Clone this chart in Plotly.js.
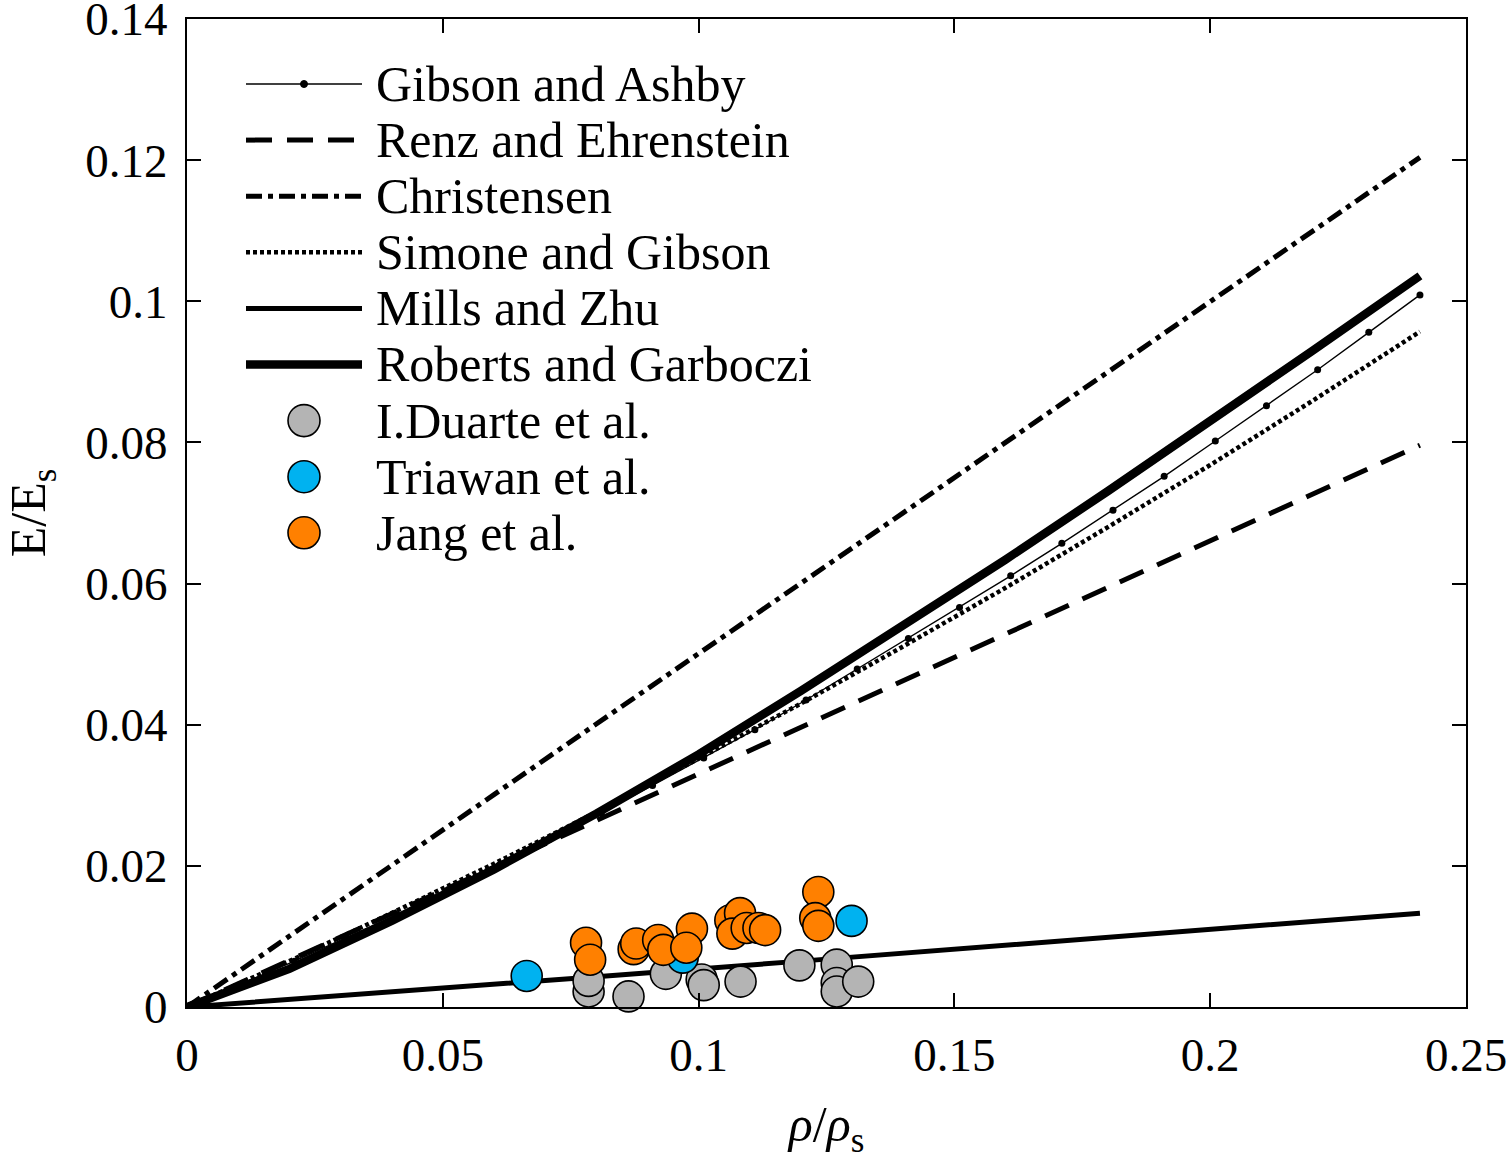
<!DOCTYPE html>
<html>
<head>
<meta charset="utf-8">
<script src="https://cdn.plot.ly/plotly-3.0.1.min.js"></script>
<style>
  body { margin: 0; background: #fff; }
  #chart { width: 1508px; height: 1160px; }
</style>
</head>
<body>
<div id="chart"></div>
<script>
// model curves (rho/rho_s -> E/E_s)
const gibsonX = [0.001, 0.011, 0.021, 0.031, 0.041, 0.051, 0.061, 0.071, 0.081, 0.091, 0.101, 0.111,
                 0.121, 0.131, 0.141, 0.151, 0.161, 0.171, 0.181, 0.191, 0.201, 0.211, 0.221, 0.231, 0.241];
const gibsonY = [0.0003, 0.0034, 0.0065, 0.0098, 0.0131, 0.0166, 0.0201, 0.0238, 0.0275, 0.0314, 0.0353, 0.0393,
                 0.0435, 0.0479, 0.0522, 0.0566, 0.0611, 0.0657, 0.0704, 0.0752, 0.0802, 0.0852, 0.0903, 0.0956, 0.1009];

const modelX = [0, 0.02, 0.04, 0.06, 0.08, 0.10, 0.12, 0.14, 0.16, 0.18, 0.20, 0.22, 0.241];
const renzY = [0, 0.0066, 0.0132, 0.0198, 0.0264, 0.0330, 0.0397, 0.0463, 0.0529, 0.0595, 0.0661, 0.0727, 0.0796];
const christensenY = [0, 0.0101, 0.0201, 0.0301, 0.0401, 0.0501, 0.0601, 0.0701, 0.0801, 0.0900, 0.1000, 0.1100, 0.1204];
const simoneY = [0, 0.0065, 0.0133, 0.0203, 0.0276, 0.0352, 0.0430, 0.0511, 0.0594, 0.0680, 0.0768, 0.0859, 0.0957];
const robertsY = [0, 0.0054, 0.0122, 0.0195, 0.0274, 0.0358, 0.0448, 0.0540, 0.0634, 0.0731, 0.0829, 0.0930, 0.1036];

const millsX = [0, 0.04, 0.08, 0.12, 0.16, 0.20, 0.241];
const millsY = [0, 0.0021, 0.0043, 0.0065, 0.0087, 0.0110, 0.0133];

// experimental points
const duarteX = [0.0785, 0.0785, 0.0863, 0.0936, 0.1006, 0.1010, 0.1082, 0.1197, 0.1270, 0.1270, 0.1270, 0.1312];
const duarteY = [0.0022, 0.0037, 0.0015, 0.0047, 0.0039, 0.0031, 0.0036, 0.0059, 0.0060, 0.0034, 0.0022, 0.0036];

const triawanX = [0.0664, 0.0969, 0.1299];
const triawanY = [0.0044, 0.0070, 0.0122];

const jangX = [0.0780, 0.0788, 0.0873, 0.0878, 0.0921, 0.0931, 0.0987, 0.0976, 0.1062, 0.1081, 0.1066,
               0.1094, 0.1117, 0.1130, 0.1234, 0.1228, 0.1234];
const jangY = [0.0091, 0.0067, 0.0082, 0.0090, 0.0095, 0.0081, 0.0111, 0.0084, 0.0123, 0.0133, 0.0104,
               0.0112, 0.0112, 0.0109, 0.0163, 0.0126, 0.0115];

// axis ticks
const xTickVals = [0, 0.05, 0.1, 0.15, 0.2, 0.25];
const xTickText = ['0', '0.05', '0.1', '0.15', '0.2', '0.25'];
const yTickVals = [0, 0.02, 0.04, 0.06, 0.08, 0.1, 0.12, 0.14];
const yTickText = ['0', '0.02', '0.04', '0.06', '0.08', '0.1', '0.12', '0.14'];

const legendNames = ['Gibson and Ashby', 'Renz and Ehrenstein', 'Christensen', 'Simone and Gibson',
                     'Mills and Zhu', 'Roberts and Garboczi', 'I.Duarte et al.', 'Triawan et al.', 'Jang et al.'];

const greyCol = '#b4b4b4';
const blueCol = '#00b2f0';
const orangeCol = '#ff8000';
const serif = '"Liberation Serif", "Times New Roman", serif';

// line styles, shared by the curves and the hand drawn legend
const lineStyles = [
    {color: 'black', width: 1.4},
    {color: 'black', width: 5, dash: '26px,15px'},
    {color: 'black', width: 5, dash: '16px,6px,5px,6px'},
    {color: 'black', width: 4.5, dash: '4px,3px'},
    {color: 'black', width: 5},
    {color: 'black', width: 8.5}
];
const dotColours = [greyCol, blueCol, orangeCol];

function dots(x, y, colour) {
    return {
        x: x, y: y, type: 'scatter', mode: 'markers', cliponaxis: false,
        marker: {size: 31, color: colour, line: {color: 'black', width: 1.6}}
    };
}

const traces = [
    {x: gibsonX, y: gibsonY, type: 'scatter', mode: 'lines+markers', line: lineStyles[0],
     marker: {size: 7, color: 'black'}},
    {x: modelX, y: renzY, type: 'scatter', mode: 'lines', line: lineStyles[1]},
    {x: modelX, y: christensenY, type: 'scatter', mode: 'lines', line: lineStyles[2]},
    {x: modelX, y: simoneY, type: 'scatter', mode: 'lines', line: lineStyles[3]},
    {x: millsX, y: millsY, type: 'scatter', mode: 'lines', line: lineStyles[4]},
    {x: modelX, y: robertsY, type: 'scatter', mode: 'lines', line: lineStyles[5]},
    dots(duarteX, duarteY, greyCol),
    dots(triawanX, triawanY, blueCol),
    dots(jangX, jangY, orangeCol)
];
traces.forEach(t => t.showlegend = false);

// legend drawn by hand so the sample lines and circles keep the long MATLAB look
const plotL = 187, plotT = 19, plotW = 1279, plotH = 988;
const px = X => (X - plotL) / plotW;
const py = Y => (plotT + plotH - Y) / plotH;
const shapes = [];
const annotations = [];
legendNames.forEach((name, i) => {
    const rowY = py(84 + i * 56.1);
    if (i < 6) {
        shapes.push({type: 'line', xref: 'paper', yref: 'paper', x0: px(246), x1: px(362), y0: rowY, y1: rowY,
                     line: lineStyles[i]});
        if (i === 0) {
            shapes.push({type: 'circle', xref: 'paper', yref: 'paper', xsizemode: 'pixel', ysizemode: 'pixel',
                         xanchor: px(304), yanchor: rowY, x0: -3.5, x1: 3.5, y0: -3.5, y1: 3.5,
                         fillcolor: 'black', line: {color: 'black', width: 1}});
        }
    } else {
        shapes.push({type: 'circle', xref: 'paper', yref: 'paper', xsizemode: 'pixel', ysizemode: 'pixel',
                     xanchor: px(304), yanchor: rowY, x0: -16, x1: 16, y0: -16, y1: 16,
                     fillcolor: dotColours[i - 6], line: {color: 'black', width: 1.6}});
    }
    annotations.push({xref: 'paper', yref: 'paper', x: px(374), y: rowY, xanchor: 'left', yanchor: 'middle',
                      text: name, showarrow: false, font: {family: serif, size: 50, color: 'black'}});
});

const axisCommon = {
    ticks: 'inside', ticklen: 14, tickwidth: 2, tickcolor: 'black',
    showline: true, linewidth: 2, linecolor: 'black', mirror: 'ticks',
    showgrid: false, zeroline: false, ticklabeloverflow: 'allow',
    tickfont: {family: serif, size: 47, color: 'black'}
};

const layout = {
    width: 1508, height: 1160,
    margin: {l: plotL, r: 1508 - plotL - plotW, t: plotT, b: 1160 - plotT - plotH},
    paper_bgcolor: 'white', plot_bgcolor: 'white',
    font: {family: serif, color: 'black'},
    showlegend: false,
    xaxis: Object.assign({}, axisCommon, {
        range: [0, 0.25], tickmode: 'array', tickvals: xTickVals, ticktext: xTickText,
        ticklabelstandoff: 6,
        title: {text: '<i>ρ</i>/<i>ρ</i><sub>s</sub>', font: {family: serif, size: 50, color: 'black'}, standoff: 30}
    }),
    yaxis: Object.assign({}, axisCommon, {
        range: [0, 0.1400001], tickmode: 'array', tickvals: yTickVals, ticktext: yTickText,
        ticklabelstandoff: 8,
        title: {text: 'E/E<sub>s</sub>', font: {family: serif, size: 50, color: 'black'}, standoff: 26}
    }),
    shapes: shapes,
    annotations: annotations
};

Plotly.newPlot('chart', traces, layout, {displayModeBar: false, staticPlot: true});
</script>
</body>
</html>
